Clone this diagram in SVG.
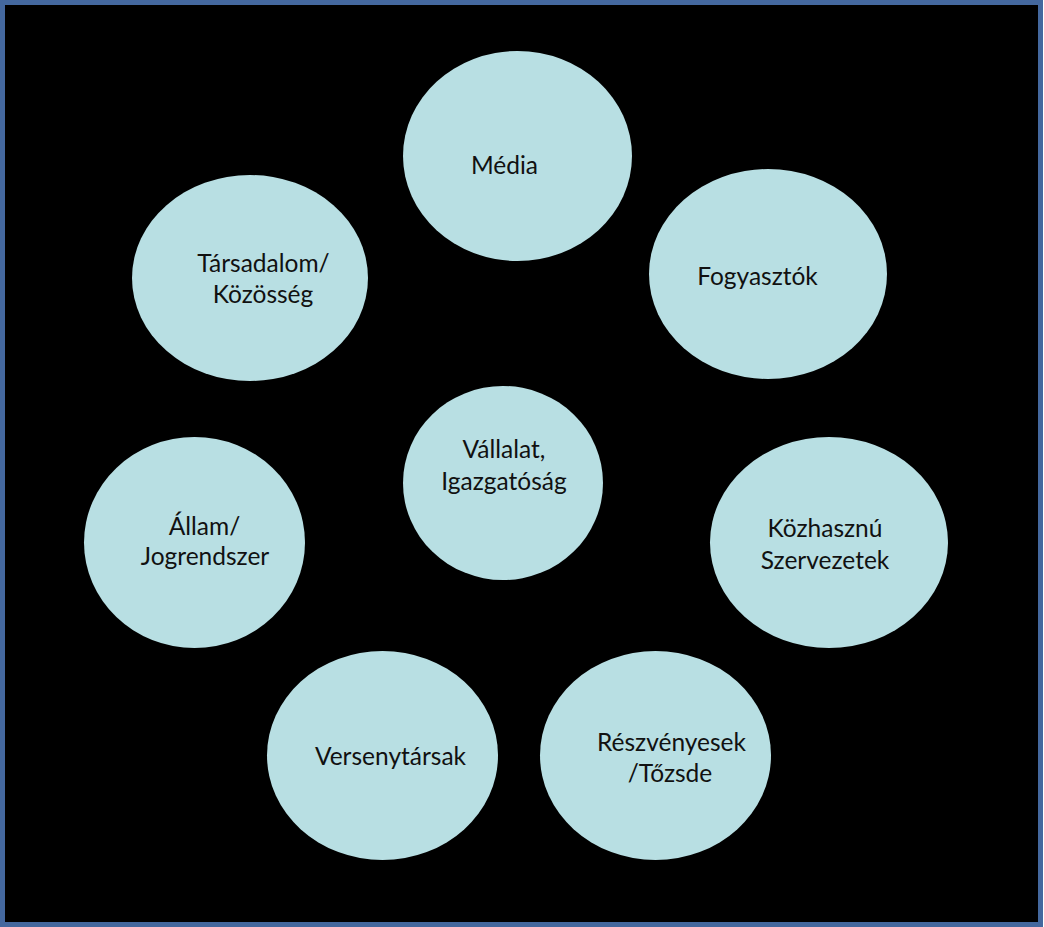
<svg xmlns="http://www.w3.org/2000/svg" width="1044" height="927" viewBox="0 0 1044 927">
<style>
.bg{fill:#000000;stroke:#44689E;stroke-width:5}
.n{fill:#B8DFE3;stroke:none}
.t{font-family:"Lato","Liberation Sans",sans-serif;font-size:24.5px;fill:#111111;text-anchor:middle}
</style>
<rect class="bg" x="2.5" y="2.5" width="1038" height="922"/>
<g id="connectors"></g>
<g id="media"><ellipse class="n" cx="517.5" cy="156" rx="114.5" ry="105"/><text class="t" x="504.5" y="174">Média</text></g>
<g id="fogyasztok"><ellipse class="n" cx="768" cy="274" rx="119" ry="105"/><text class="t" x="757.5" y="285">Fogyasztók</text></g>
<g id="tarsadalom"><ellipse class="n" cx="250" cy="278" rx="118" ry="103"/><text class="t" x="263.5" y="272">Társadalom/</text><text class="t" x="263" y="303">Közösség</text></g>
<g id="vallalat"><ellipse class="n" cx="503" cy="483" rx="100" ry="97"/><text class="t" x="504" y="458">Vállalat,</text><text class="t" x="504" y="490">Igazgatóság</text></g>
<g id="allam"><ellipse class="n" cx="194.5" cy="542.5" rx="110.5" ry="105.5"/><text class="t" x="204.5" y="535">Állam/</text><text class="t" x="205" y="565">Jogrendszer</text></g>
<g id="kozhasznu"><ellipse class="n" cx="829" cy="542.5" rx="119" ry="105.5"/><text class="t" x="825" y="537">Közhasznú</text><text class="t" x="825" y="569">Szervezetek</text></g>
<g id="versenytarsak"><ellipse class="n" cx="382.5" cy="755.5" rx="115.5" ry="104.5"/><text class="t" x="390.5" y="765">Versenytársak</text></g>
<g id="reszvenyesek"><ellipse class="n" cx="655.5" cy="755.5" rx="115.5" ry="104.5"/><text class="t" x="671.5" y="751">Részvényesek</text><text class="t" x="670" y="782">/Tőzsde</text></g>
</svg>
